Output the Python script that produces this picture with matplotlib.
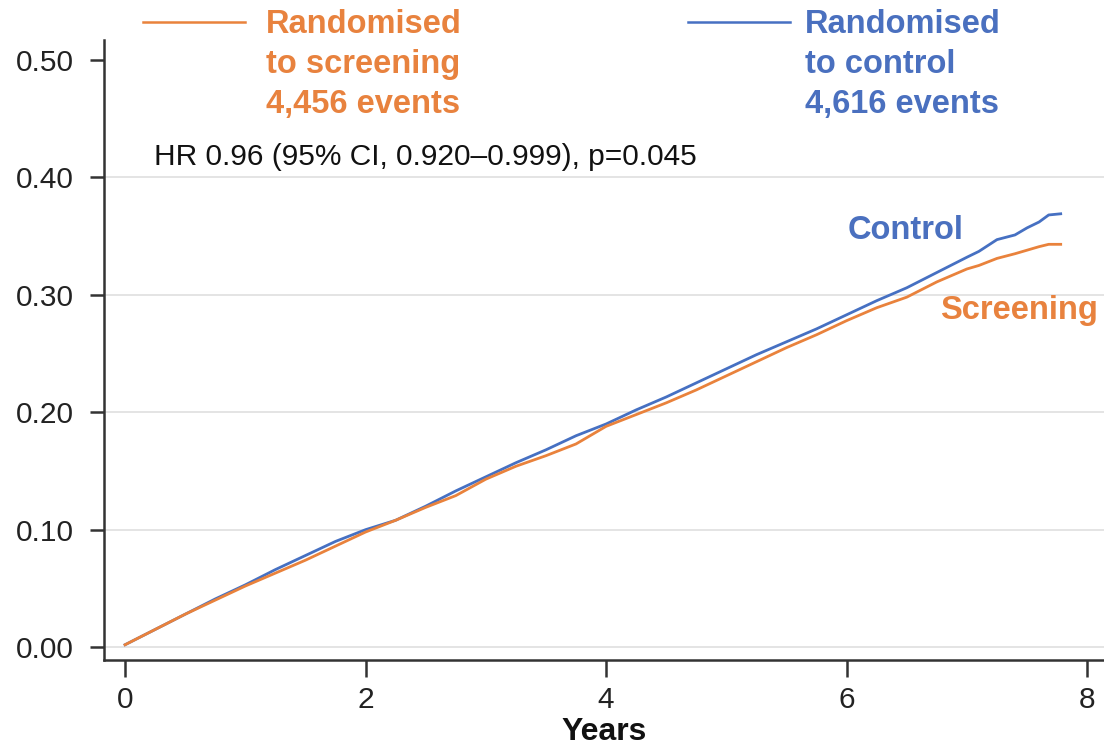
import matplotlib
matplotlib.use("Agg")
import matplotlib.pyplot as plt
from matplotlib import font_manager

# ---- data ----
years = [0.0, 0.25, 0.5, 0.75, 1.0, 1.25, 1.5, 1.75, 2.0, 2.25, 2.5, 2.75,
         3.0, 3.25, 3.5, 3.75, 4.0, 4.25, 4.5, 4.75, 5.0, 5.25, 5.5, 5.75,
         6.0, 6.25, 6.5, 6.75, 7.0, 7.1, 7.25, 7.4, 7.5, 7.6, 7.68, 7.78]
control = [0.002, 0.015, 0.028, 0.041, 0.053, 0.066, 0.078, 0.090, 0.100, 0.108,
           0.120, 0.133, 0.145, 0.157, 0.168, 0.180, 0.190, 0.202, 0.213, 0.225,
           0.237, 0.249, 0.260, 0.271, 0.283, 0.295, 0.306, 0.319, 0.332, 0.337,
           0.347, 0.351, 0.357, 0.362, 0.368, 0.369]
screening = [0.002, 0.015, 0.028, 0.040, 0.052, 0.063, 0.074, 0.086, 0.098, 0.108,
             0.119, 0.129, 0.143, 0.154, 0.163, 0.173, 0.188, 0.198, 0.208, 0.219,
             0.231, 0.243, 0.255, 0.266, 0.278, 0.289, 0.298, 0.311, 0.322, 0.325,
             0.331, 0.335, 0.338, 0.341, 0.343, 0.343]
yticks = [0.0, 0.1, 0.2, 0.3, 0.4, 0.5]
ytick_labels = ["0.00", "0.10", "0.20", "0.30", "0.40", "0.50"]
xticks = [0, 2, 4, 6, 8]
xtick_labels = ["0", "2", "4", "6", "8"]
legend_screen = "Randomised\nto screening\n4,456 events"
legend_control = "Randomised\nto control\n4,616 events"
hr_text = "HR 0.96 (95% CI, 0.920\u20130.999), p=0.045"

ORANGE = "#E9823C"
BLUE = "#4670C2"
ORANGE_TXT = "#E8823E"
BLUE_TXT = "#4A70BF"

names = {f.name for f in font_manager.fontManager.ttflist}
FONT = "Liberation Sans" if "Liberation Sans" in names else "DejaVu Sans"
plt.rcParams["font.family"] = [FONT, "DejaVu Sans"]

fig = plt.figure(figsize=(11.04, 7.49), dpi=100)
ax = fig.add_axes([0.0942, 0.1188, 0.9058, 0.8278])

ax.set_xlim(-0.175, 8.14)
ax.set_ylim(-0.011, 0.517)

for y in yticks[:-1]:
    ax.axhline(y, color="#e4e4e4", lw=1.4, zorder=0)

ax.plot(years, screening, color=ORANGE, lw=2.0, zorder=3)
ax.plot(years, control, color=BLUE, lw=2.0, zorder=2)

for s in ["top", "right"]:
    ax.spines[s].set_visible(False)
for s in ["left", "bottom"]:
    ax.spines[s].set_color("#333333")
    ax.spines[s].set_linewidth(1.8)

ax.set_yticks(yticks)
ax.set_yticklabels(ytick_labels)
ax.set_xticks(xticks)
ax.set_xticklabels(xtick_labels)
ax.tick_params(axis="y", length=10, width=1.8, color="#333333", labelsize=21.5,
               labelcolor="#222222", pad=12)
ax.tick_params(axis="x", length=12, width=1.8, color="#333333", labelsize=21.5,
               labelcolor="#222222", pad=7)
ax.set_xlabel("Years", fontsize=23, fontweight="bold", labelpad=2, color="#111111")

# legend-like annotations (figure coordinates in pixels)
W, H = 1104, 749
def fx(px):
    return px / W
def fy(py):
    return 1 - py / H

fig.add_artist(plt.Line2D([fx(143), fx(245)], [fy(22), fy(22)], color=ORANGE, lw=1.8))
fig.add_artist(plt.Line2D([fx(688), fx(790)], [fy(22), fy(22)], color=BLUE, lw=1.8))
fig.text(fx(266), fy(9), legend_screen, color=ORANGE_TXT, fontsize=23.5,
         fontweight="bold", ha="left", va="top", linespacing=1.38)
fig.text(fx(805), fy(9), legend_control, color=BLUE_TXT, fontsize=23.5,
         fontweight="bold", ha="left", va="top", linespacing=1.38)

fig.text(fx(154), fy(157), hr_text, fontsize=21.5, color="#111111",
         ha="left", va="center")

ax.text(6.49, 0.355, "Control", color=BLUE_TXT, fontsize=23.5, fontweight="bold",
        ha="center", va="center")
ax.text(7.43, 0.287, "Screening", color=ORANGE_TXT, fontsize=23.5, fontweight="bold",
        ha="center", va="center")

fig.savefig("out.png", dpi=100)
